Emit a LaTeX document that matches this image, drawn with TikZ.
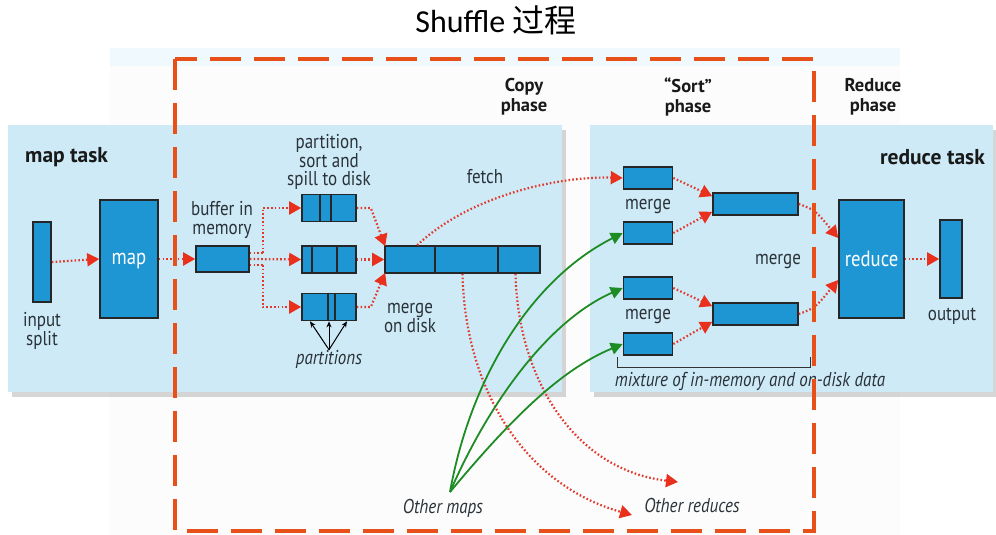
\documentclass[tikz,border=0pt]{standalone}
\usepackage{fontspec}
\setmainfont[FakeStretch=0.85]{PT Sans}
\newfontfamily\taskfont[Ligatures=TeX]{PT Sans}
\newfontfamily\whitefont[FakeStretch=0.85]{PT Sans}
\newfontfamily\titlefont{Carlito}
\newfontfamily\cjkfont{Noto Sans CJK SC}
\usetikzlibrary{arrows.meta}
\definecolor{panelblue}{HTML}{CDEAF6}
\definecolor{boxblue}{HTML}{1E96D4}
\definecolor{dotred}{HTML}{E2382A}
\definecolor{tipred}{HTML}{E8301C}
\definecolor{greenline}{HTML}{1E8C24}
\definecolor{dashorange}{HTML}{E8501A}
\definecolor{txt}{HTML}{2A3238}
\tikzset{
  panel/.style={fill=panelblue, draw=none},
  shadowpanel/.style={fill=black!45, opacity=0.35, draw=none},
  bluebox/.style={draw=black!85, line width=1.6pt, fill=boxblue, inner sep=0pt},
  divider/.style={draw=black!85, line width=1.6pt},
  dotarrow/.style={draw=dotred, line width=2.2pt, dash pattern=on 1.6pt off 2.2pt,
     -{Triangle[length=12pt,width=13pt,fill=tipred,color=tipred]}},
  dotline/.style={draw=dotred, line width=2.2pt, dash pattern=on 1.6pt off 2.2pt},
  greenarrow/.style={draw=greenline, line width=1.8pt,
     -{Triangle[length=12pt,width=12pt,fill=greenline,color=greenline]}},
  blackarrow/.style={draw=black, line width=1pt, -{Stealth[length=6pt,width=5pt]}},
  lbl/.style={font=\fontsize{20}{18.5}\selectfont, text=txt, align=center, inner sep=0pt},
  ilbl/.style={font=\fontsize{20}{18.5}\selectfont\itshape, text=txt, align=center, inner sep=0pt},
  blbl/.style={font=\taskfont\fontsize{18.5}{20}\selectfont\bfseries, text=black!90, align=center, inner sep=0pt},
  tlbl/.style={font=\taskfont\fontsize{21.5}{22}\selectfont\bfseries, text=black!90, inner sep=0pt},
  wlbl/.style={font=\whitefont\fontsize{22}{22}\selectfont, text=white, inner sep=0pt},
  orangedash/.style={draw=dashorange, line width=3.6pt, dash pattern=on 31pt off 13pt}
}
\begin{document}
\begin{tikzpicture}[x=1pt,y=-1pt]
\useasboundingbox (0,0) rectangle (996,535);
\fill[white] (0,0) rectangle (996,535);
% background patches
\fill[black!1] (110,48) rectangle (900,535);
\fill[cyan!6!white] (110,48) rectangle (900,66);
% title
\node[inner sep=0pt, font=\fontsize{32}{34}\selectfont] (title) at (496,20) {\titlefont Shuffle \cjkfont 过程};

% panels with shadows
\fill[shadowpanel] (12,130) rectangle (566,397);
\fill[panel] (8,125) rectangle (562,392);
\fill[shadowpanel] (594,130) rectangle (997,397);
\fill[panel] (590,125) rectangle (993,392);

% map task side
\node[tlbl, anchor=west] (maptask) at (25,157) {map task};
\node[bluebox, minimum width=18pt, minimum height=80pt] (split) at (42,262) {};
\node[lbl] (splitlbl) at (42,331) {input\\split};
\node[bluebox, minimum width=58pt, minimum height=118pt] (map) at (129,259) {};
\node[wlbl] (maplbl) at (129,261) {map};
\node[bluebox, minimum width=53pt, minimum height=26pt] (buffer) at (222.5,259) {};
\node[lbl] (bufferlbl) at (222,220) {buffer in\\memory};

\node[bluebox, minimum width=54pt, minimum height=27pt] (sp1) at (329,208) {};
\node[bluebox, minimum width=54pt, minimum height=27pt] (sp2) at (329,259.5) {};
\node[bluebox, minimum width=54pt, minimum height=27pt] (sp3) at (329,307) {};
\draw[divider] ([xshift=-9pt]sp1.north) -- ([xshift=-9pt]sp1.south);
\draw[divider] ([xshift=2pt]sp1.north) -- ([xshift=2pt]sp1.south);
\draw[divider] ([xshift=-17pt]sp2.north) -- ([xshift=-17pt]sp2.south);
\draw[divider] ([xshift=8pt]sp2.north) -- ([xshift=8pt]sp2.south);
\draw[divider] ([xshift=-1pt]sp3.north) -- ([xshift=-1pt]sp3.south);
\draw[divider] ([xshift=6pt]sp3.north) -- ([xshift=6pt]sp3.south);
\node[lbl] (spilllbl) at (329,162) {partition,\\sort and\\spill to disk};
\node[ilbl] (partitions) at (329,359) {partitions};
\draw[blackarrow] (partitions.north) -- ([xshift=-19pt]sp3.south);
\draw[blackarrow] (partitions.north) -- (sp3.south);
\draw[blackarrow] (partitions.north) -- ([xshift=18pt]sp3.south);

\node[bluebox, minimum width=155pt, minimum height=27pt] (big) at (462.5,259.5) {};
\draw[divider] ([xshift=-27.5pt]big.north) -- ([xshift=-27.5pt]big.south);
\draw[divider] ([xshift=35.5pt]big.north) -- ([xshift=35.5pt]big.south);
\node[lbl] (mergedisk) at (410,318) {merge\\on disk};
\node[lbl] (fetch) at (485,177) {fetch};

% phase labels
\node[blbl] (copyph) at (524,97) {Copy\\phase};
\node[blbl] (sortph) at (688,97) {“Sort”\\phase};
\node[blbl] (reduceph) at (873,97) {Reduce\\phase};

% reduce task side
\node[tlbl, anchor=east] (reducetask) at (985,157) {reduce task};
\node[bluebox, minimum width=49pt, minimum height=22pt] (m1) at (648,178) {};
\node[bluebox, minimum width=49pt, minimum height=22pt] (m2) at (648,233) {};
\node[bluebox, minimum width=49pt, minimum height=22pt] (m3) at (648,288) {};
\node[bluebox, minimum width=49pt, minimum height=22pt] (m4) at (648,344) {};
\node[lbl] (merge1) at (648,206) {merge};
\node[lbl] (merge2) at (648,316) {merge};
\node[bluebox, minimum width=85pt, minimum height=22pt] (g1) at (755.5,204) {};
\node[bluebox, minimum width=85pt, minimum height=22pt] (g2) at (755.5,314) {};
\node[lbl] (merge3) at (778,261) {merge};
\node[bluebox, minimum width=65pt, minimum height=118pt] (reduce) at (871.5,259) {};
\node[wlbl] (reducelbl) at (871.5,259) {reduce};
\node[bluebox, minimum width=22pt, minimum height=78pt] (output) at (951,259) {};
\node[lbl] (outputlbl) at (952,316) {output};
\coordinate (brA) at (617,357);
\coordinate (brB) at (810,357);
\draw[black!80, line width=1pt] (brA) -- ++(0,10) -| (brB);
\node[ilbl] (mixture) at (750,381) {mixture of in-memory and on-disk data};

\node[ilbl] (othermaps) at (443,508) {Other maps};
\node[ilbl] (otherreduces) at (692,505) {Other reduces};

% red dotted arrows
\draw[dotarrow] (split.east) -- (map.west);
\draw[dotarrow] (map.east) -- (buffer.west);
\draw[dotline] ([yshift=6pt]buffer.east) -- ++(13,0) coordinate (bt);
\draw[dotarrow] (bt) |- (sp1.west);
\draw[dotarrow] (buffer.east) -- (sp2.west);
\draw[dotline] ([yshift=-6pt]buffer.east) -- ++(13,0) coordinate (bb);
\draw[dotarrow] (bb) |- (sp3.west);
\draw[dotarrow] (sp1.east) -- ++(14,0) -- ([xshift=1pt,yshift=-1pt]big.north west);
\draw[dotarrow] (sp2.east) -- (big.west);
\draw[dotarrow] (sp3.east) -- ++(14,0) -- ([xshift=1pt,yshift=1pt]big.south west);
\draw[dotarrow] ([xshift=33pt]big.north west) .. controls (470,195) and (560,176) .. (m1.west);
\draw[dotarrow] ([xshift=0pt]big.south) .. controls (465,390) and (525,485) .. (632,515);
\draw[dotarrow] ([xshift=53pt]big.south) .. controls (518,380) and (575,470) .. (678,482);
\draw[dotarrow] (m1.east) -- ([yshift=-4pt]g1.north west);
\draw[dotarrow] (m2.east) -- ([yshift=4pt]g1.south west);
\draw[dotarrow] (m3.east) -- ([yshift=-4pt]g2.north west);
\draw[dotarrow] (m4.east) -- ([yshift=4pt]g2.south west);
\draw[dotarrow] (g1.east) .. controls (815,210) .. ([yshift=21pt]reduce.west);
\draw[dotarrow] (g2.east) .. controls (815,308) .. ([yshift=-21pt]reduce.west);
\draw[dotarrow] (reduce.east) -- (output.west);

% green arrows
\coordinate (om) at (450,492);
\draw[greenarrow] (om) .. controls (470,380) and (530,280) .. (m2.west);
\draw[greenarrow] (om) .. controls (490,400) and (550,320) .. (m3.west);
\draw[greenarrow] (om) .. controls (510,420) and (560,370) .. (m4.west);

% orange dashed frame
\draw[orangedash] (175,59) rectangle (814,531);
\end{tikzpicture}
\end{document}
